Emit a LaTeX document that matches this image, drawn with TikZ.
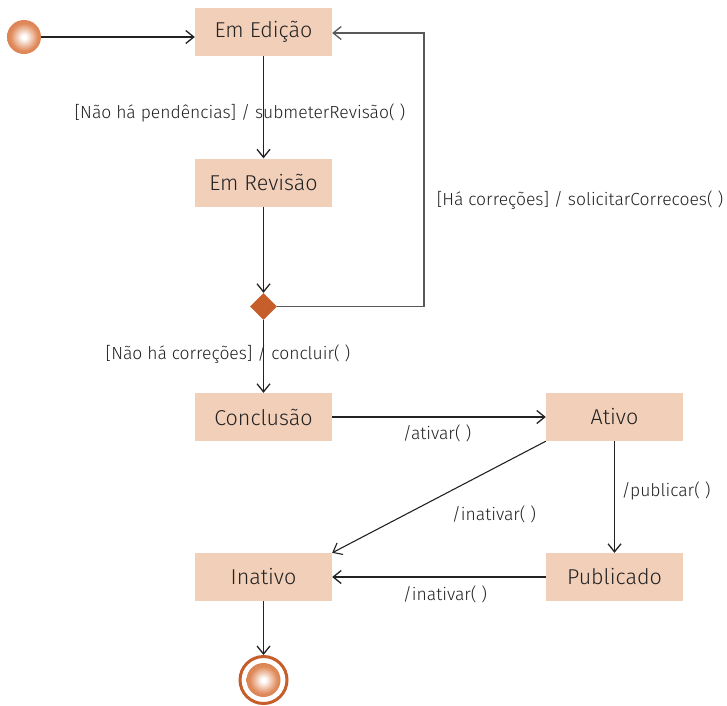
\documentclass[tikz,border=0pt]{standalone}
\usepackage{fontspec}
\setmainfont{Fira Sans Light}
\usetikzlibrary{arrows.meta,shapes.geometric}
\definecolor{boxfill}{HTML}{F2CFB9}
\definecolor{accent}{HTML}{C65E2C}
\definecolor{accentlight}{HTML}{E08B5C}
\definecolor{ink}{HTML}{222222}
\pgfdeclareradialshading{myball}{\pgfpoint{0bp}{0bp}}{color(0bp)=(white); color(3bp)=(white); color(20bp)=(accentlight); color(50bp)=(accent)}
\begin{document}
\begin{tikzpicture}[x=1pt,y=-1pt,
  state/.style={fill=boxfill, minimum width=137pt, minimum height=48pt, inner sep=0pt, font=\fontsize{21.5}{24}\selectfont, text=ink},
  lbl/.style={font=\fontsize{17.5}{20}\selectfont, text=ink, inner sep=0pt},
  tr/.style={draw=ink, line width=1.7pt, -{Straight Barb[length=8pt,width=13pt,line width=1.3pt]}},
  thin tr/.style={draw=ink, line width=1.1pt, -{Straight Barb[length=8pt,width=13pt,line width=1.1pt]}},
  loopline/.style={draw=black!65, line width=1.3pt, -{Straight Barb[length=8pt,width=13pt,line width=1.3pt]}},
  ball/.style={circle, inner sep=0pt, minimum size=#1, shading=myball}]
\useasboundingbox (0,0) rectangle (727,705);

\node[state] (ed) at (263.5,31.5) {Em Edição};
\node[state] (rev) at (263.5,182.5) {Em Revisão};
\node[state] (conc) at (263.5,417) {Conclusão};
\node[state] (at) at (614.5,417) {Ativo};
\node[state] (in) at (263.5,577) {Inativo};
\node[state] (pub) at (614.5,577) {Publicado};
\node[diamond, fill=accent, minimum width=27pt, minimum height=27pt, inner sep=0pt] (dec) at (263.5,306.5) {};
\node[ball=34pt] (init) at (24,37) {};
\node[circle, draw=accent, line width=3pt, minimum size=47pt, inner sep=0pt] (fin) at (263.5,680) {};
\node[ball=34pt] (finin) at (fin) {};
\coordinate (loopc) at (424,33);

\draw[tr] (init.east) -- (init.east -| ed.west);
\draw[tr] (ed) -- (rev);
\draw[tr] (rev) -- (dec);
\draw[loopline] (dec.east) -| (loopc) -- (loopc -| ed.east);
\draw[tr] (dec) -- (conc);
\draw[tr] (conc) -- (at);
\draw[tr] (at) -- (pub);
\draw[tr] (pub) -- (in);
\draw[thin tr] (at.south west) -- (in.north east);
\draw[tr] (in) -- (fin);

\node[lbl] (l1) at (240,113) {[Não há pendências] / submeterRevisão( )};
\node[lbl] (l2) at (580,200) {[Há correções] / solicitarCorrecoes( )};
\node[lbl] (l3) at (228,354) {[Não há correções] / concluir( )};
\node[lbl] (l4) at (437,433) {/ativar( )};
\node[lbl] (l5) at (494,514) {/inativar( )};
\node[lbl] (l6) at (666,491) {/publicar( )};
\node[lbl] (l7) at (445,594) {/inativar( )};
\end{tikzpicture}
\end{document}
